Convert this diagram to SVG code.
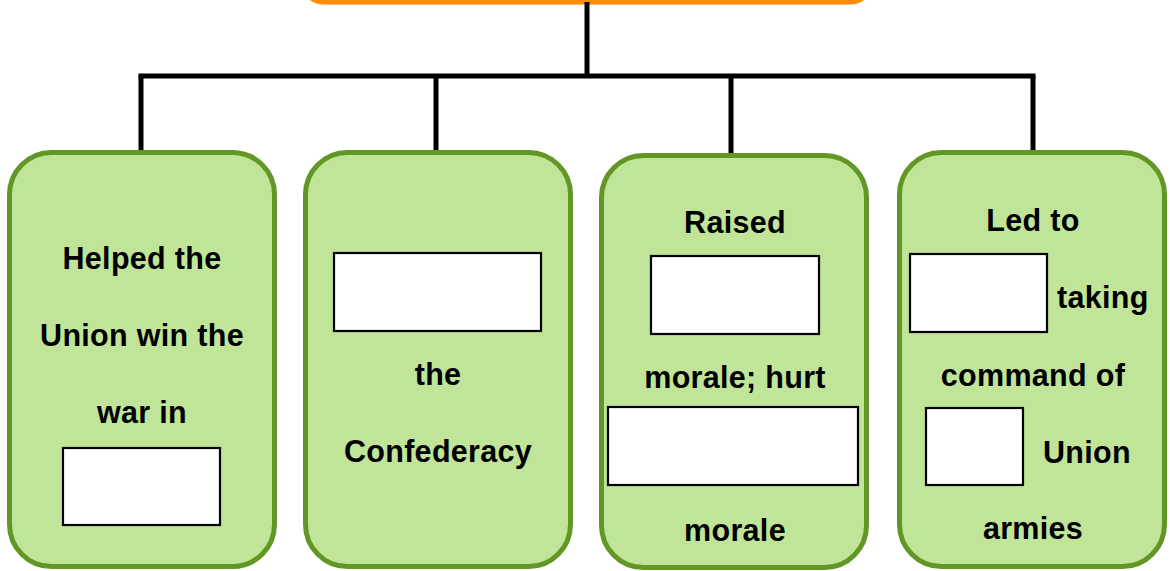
<svg xmlns="http://www.w3.org/2000/svg" width="1170" height="571" viewBox="0 0 1170 571">
<style>
.node{fill:#C0E598;stroke:#629625;stroke-width:5}
.blank{fill:#FFFFFF;stroke:#000000;stroke-width:2.2}
.t{font-family:"Liberation Sans",Arial,sans-serif;font-weight:bold;font-size:30.5px;letter-spacing:0.3px;fill:#000000}
.c{text-anchor:middle}
.conn{stroke:#000000;stroke-width:5;fill:none}
</style>
<rect width="1170" height="571" fill="#FFFFFF"/>
<g id="top">
<rect x="302" y="-60" width="570" height="62" rx="22" fill="#FFFFFF" stroke="#FF8C00" stroke-width="5"/>
</g>
<g id="connectors">
<line class="conn" x1="587" y1="2" x2="587" y2="76"/>
<line class="conn" x1="138.5" y1="76" x2="1035.5" y2="76"/>
<line class="conn" x1="141" y1="76" x2="141" y2="152"/>
<line class="conn" x1="436" y1="76" x2="436" y2="152"/>
<line class="conn" x1="731" y1="76" x2="731" y2="155"/>
<line class="conn" x1="1033" y1="76" x2="1033" y2="152"/>
</g>
<g id="node1">
<rect class="node" x="9.5" y="152.5" width="265" height="414" rx="42"/>
<text class="t c" x="142" y="269">Helped the</text>
<text class="t c" x="142" y="346">Union win the</text>
<text class="t c" x="142" y="423">war in</text>
<rect class="blank" x="63" y="448" width="157" height="77"/>
</g>
<g id="node2">
<rect class="node" x="305.5" y="152.5" width="265" height="414" rx="42"/>
<rect class="blank" x="334" y="253" width="207" height="78"/>
<text class="t c" x="438" y="385">the</text>
<text class="t c" x="438" y="462">Confederacy</text>
</g>
<g id="node3">
<rect class="node" x="601.5" y="155.5" width="265" height="412" rx="42"/>
<text class="t c" x="735" y="233">Raised</text>
<rect class="blank" x="651" y="256" width="168" height="78"/>
<text class="t c" x="735" y="388">morale; hurt</text>
<rect class="blank" x="608" y="407" width="250" height="78"/>
<text class="t c" x="735" y="541">morale</text>
</g>
<g id="node4">
<rect class="node" x="899.5" y="152.5" width="265" height="414" rx="42"/>
<text class="t c" x="1033" y="231">Led to</text>
<rect class="blank" x="910" y="254" width="137" height="78"/>
<text class="t" x="1057" y="308">taking</text>
<text class="t c" x="1033" y="386">command of</text>
<rect class="blank" x="926" y="408" width="97" height="77"/>
<text class="t" x="1043" y="463">Union</text>
<text class="t c" x="1033" y="539">armies</text>
</g>
</svg>
